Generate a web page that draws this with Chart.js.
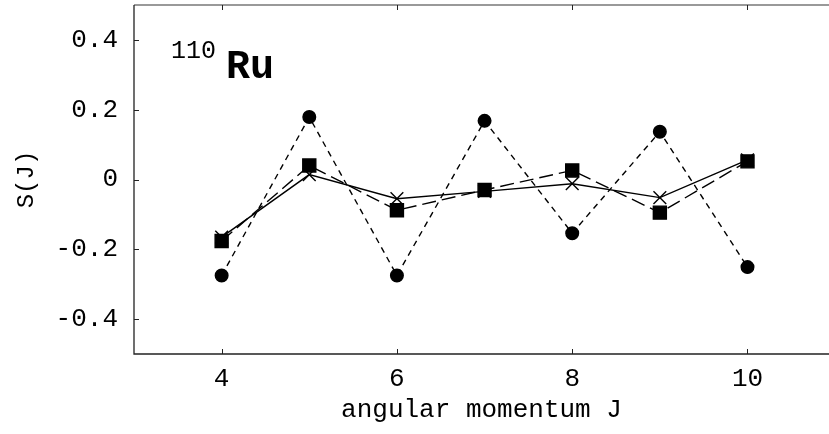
<!DOCTYPE html>
<html>
<head>
<meta charset="utf-8">
<script src="https://cdn.jsdelivr.net/npm/chart.js@4.4.1/dist/chart.umd.min.js"></script>
<style>
  html, body { margin: 0; padding: 0; background: #fff; }
  #wrap { width: 829px; height: 434px; }
</style>
</head>
<body>
<div id="wrap"><canvas id="sChart" width="829" height="434"></canvas></div>
<script>
// ── datos ──
const momentoJ = [4, 5, 6, 7, 8, 9, 10];
const serieCirculos = [-0.275, 0.179, -0.275, 0.168, -0.154, 0.137, -0.251];
const serieCuadrados = [-0.176, 0.040, -0.088, -0.030, 0.026, -0.095, 0.052];
const serieCruces = [-0.165, 0.014, -0.055, -0.034, -0.012, -0.052, 0.056];
const ticksX = [4, 6, 8, 10];
const ticksY = [-0.4, -0.2, 0, 0.2, 0.4];

const fuente = "'Liberation Mono', 'DejaVu Sans Mono', monospace";

function puntos(vals) {
    return momentoJ.map((j, i) => ({ x: j, y: vals[i] }));
}

// marco y marcas hacia adentro
const marco = {
    id: "marco",
    afterDraw(chart) {
        const { ctx, chartArea: a, scales: { x, y } } = chart;
        ctx.save();
        ctx.lineWidth = 1.3;
        ctx.strokeStyle = "#777";
        ctx.beginPath();
        ctx.moveTo(a.left, a.top);
        ctx.lineTo(a.right, a.top);
        ctx.stroke();
        ctx.strokeStyle = "#222";
        ctx.beginPath();
        ctx.moveTo(a.left, a.top);
        ctx.lineTo(a.left, a.bottom);
        ctx.lineTo(a.right, a.bottom);
        ctx.stroke();
        ctx.lineWidth = 1;
        ctx.beginPath();
        ticksX.forEach(v => {
            const px = Math.round(x.getPixelForValue(v)) + 0.5;
            ctx.moveTo(px, a.bottom);
            ctx.lineTo(px, a.bottom - 5);
            ctx.moveTo(px, a.top);
            ctx.lineTo(px, a.top + 5);
        });
        ticksY.forEach(v => {
            const py = Math.round(y.getPixelForValue(v)) + 0.5;
            ctx.moveTo(a.left, py);
            ctx.lineTo(a.left + 5, py);
        });
        ctx.stroke();

        // etiqueta 110Ru
        ctx.fillStyle = "#000";
        ctx.textBaseline = "alphabetic";
        ctx.font = "25px " + fuente;
        ctx.fillText("110", 171, 58);
        ctx.font = "bold 40px " + fuente;
        ctx.fillText("Ru", 226, 78);
        ctx.restore();
    }
};

new Chart(document.getElementById("sChart"), {
    type: "line",
    data: {
        datasets: [
            {
                label: "circulos",
                data: puntos(serieCirculos),
                borderColor: "#000",
                backgroundColor: "#000",
                borderWidth: 1.4,
                borderDash: [6, 5],
                pointStyle: "circle",
                pointRadius: 6.3,
                pointHoverRadius: 6.3,
                tension: 0
            },
            {
                label: "cuadrados",
                data: puntos(serieCuadrados),
                borderColor: "#000",
                backgroundColor: "#000",
                borderWidth: 1.4,
                borderDash: [14, 6],
                pointStyle: "rect",
                pointRadius: 9.2,
                pointHoverRadius: 9.2,
                tension: 0
            },
            {
                label: "cruces",
                data: puntos(serieCruces),
                borderColor: "#000",
                backgroundColor: "#000",
                borderWidth: 1.4,
                pointStyle: "crossRot",
                pointRadius: 9,
                pointBorderWidth: 1.4,
                pointHoverRadius: 9,
                tension: 0
            }
        ]
    },
    options: {
        responsive: false,
        animation: false,
        events: [],
        layout: { autoPadding: false, padding: { top: 5, right: 0, left: 0, bottom: 0 } },
        plugins: { legend: { display: false }, tooltip: { enabled: false } },
        scales: {
            x: {
                type: "linear",
                min: 3,
                max: 10.93,
                afterBuildTicks: s => { s.ticks = ticksX.map(v => ({ value: v })); },
                afterFit: s => { s.height = 80; s.paddingLeft = 0; s.paddingRight = 0; },
                grid: { display: false, drawTicks: false },
                border: { display: false },
                ticks: {
                    color: "#000",
                    padding: 10,
                    font: { family: fuente, size: 26 },
                    maxRotation: 0
                },
                title: {
                    display: true,
                    text: "angular momentum J",
                    color: "#000",
                    font: { family: fuente, size: 26 },
                    padding: { top: 0, bottom: 8 }
                }
            },
            y: {
                min: -0.5,
                max: 0.5,
                afterBuildTicks: s => { s.ticks = ticksY.map(v => ({ value: v })); },
                afterFit: s => { s.width = 134; s.paddingTop = 0; s.paddingBottom = 0; },
                grid: { display: false, drawTicks: false },
                border: { display: false },
                ticks: {
                    color: "#000",
                    padding: 16,
                    font: { family: fuente, size: 26 },
                    callback: v => (v === 0 ? "0" : v.toFixed(1))
                },
                title: {
                    display: true,
                    text: "S(J)",
                    color: "#000",
                    font: { family: fuente, size: 24 },
                    padding: { top: 12, bottom: 0 }
                }
            }
        }
    },
    plugins: [marco]
});
</script>
</body>
</html>
